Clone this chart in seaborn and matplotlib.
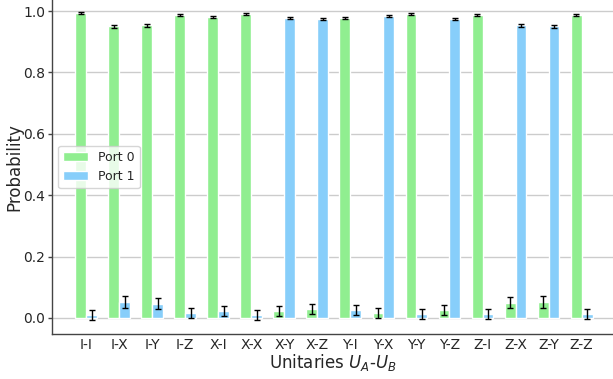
import numpy as np
import pandas as pd
import matplotlib
matplotlib.use("Agg")
import matplotlib.pyplot as plt
import seaborn as sns

unitaries = ["I-I", "I-X", "I-Y", "I-Z", "X-I", "X-X", "X-Y", "X-Z",
             "Y-I", "Y-X", "Y-Y", "Y-Z", "Z-I", "Z-X", "Z-Y", "Z-Z"]
port0 = [0.993, 0.951, 0.954, 0.987, 0.980, 0.990, 0.023, 0.029,
         0.977, 0.016, 0.990, 0.026, 0.987, 0.049, 0.052, 0.987]
port1 = [0.010, 0.052, 0.046, 0.016, 0.023, 0.010, 0.978, 0.974,
         0.026, 0.984, 0.013, 0.974, 0.013, 0.954, 0.951, 0.013]
err0 = [0.003, 0.005, 0.005, 0.003, 0.003, 0.003, 0.016, 0.017,
        0.004, 0.017, 0.003, 0.017, 0.003, 0.018, 0.018, 0.003]
err1 = [0.016, 0.018, 0.018, 0.016, 0.017, 0.016, 0.003, 0.003,
        0.017, 0.003, 0.016, 0.003, 0.016, 0.005, 0.005, 0.016]
ports = ["Port 0", "Port 1"]
colors = ["#90EE90", "#87CEFA"]

df = pd.DataFrame({
    "Unitary": unitaries * 2,
    "Probability": port0 + port1,
    "Port": [ports[0]] * len(unitaries) + [ports[1]] * len(unitaries),
})

sns.set_style("ticks")
fig = plt.figure(figsize=(6.13, 3.79), dpi=100)
ax = fig.add_axes([0.085, 0.119, 0.915, 0.881])
sns.barplot(data=df, x="Unitary", y="Probability", hue="Port",
            palette=colors, width=0.66, ax=ax, errorbar=None, saturation=1)

# error bars at bar centres
for i, (vals, errs) in enumerate([(port0, err0), (port1, err1)]):
    cont = ax.containers[i]
    xs = [p.get_x() + p.get_width() / 2 for p in cont.patches]
    ax.errorbar(xs, vals, yerr=errs, fmt="none", ecolor="black",
                elinewidth=1, capsize=2, capthick=1, zorder=5)

ax.set_ylim(-0.052, 1.036)
ax.set_xlim(-1.03, 15.95)
ax.set_yticks([0.0, 0.2, 0.4, 0.6, 0.8, 1.0])
ax.yaxis.grid(True, color="#cccccc", linewidth=1)
ax.set_axisbelow(True)
sns.despine(ax=ax)
for s in ("left", "bottom"):
    ax.spines[s].set_color("#444444")
    ax.spines[s].set_linewidth(1.0)
ax.set_xlabel("Unitaries $U_A$-$U_B$", fontsize=12, labelpad=0)
ax.set_ylabel("Probability", fontsize=12, labelpad=0)
ax.tick_params(axis="x", labelsize=10, length=0, pad=3)
ax.tick_params(axis="y", labelsize=10, length=3, width=1, pad=2, color="#444444")
ax.legend(loc="center left", bbox_to_anchor=(0.0, 0.5), fontsize=9)

fig.savefig("out.png", dpi=100)
